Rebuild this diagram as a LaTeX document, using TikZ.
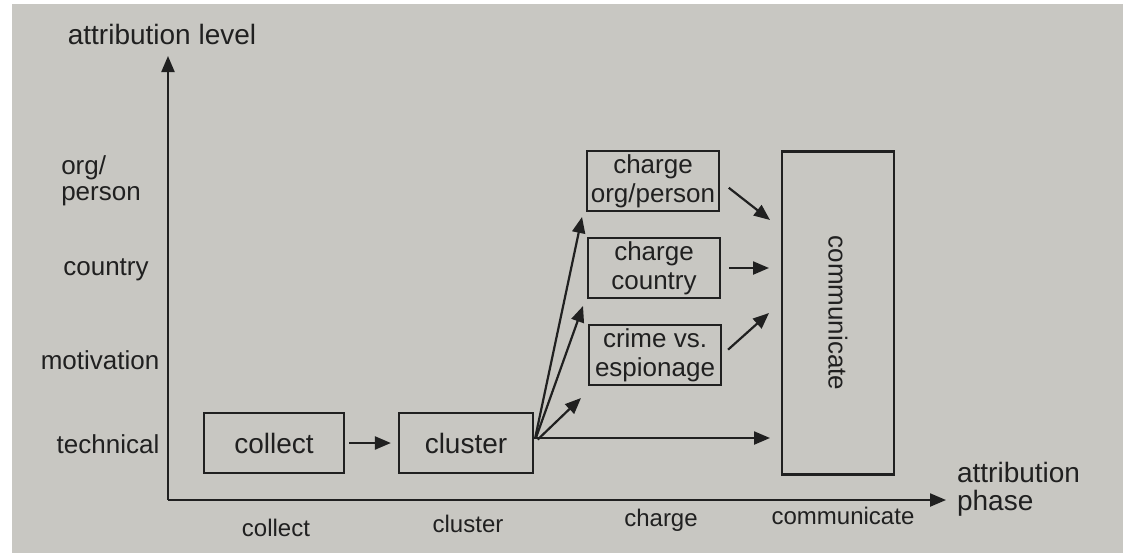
\documentclass[tikz,border=0pt]{standalone}
\usepackage{fontspec}
\setmainfont{Liberation Sans}
\usepackage{tikz}
\usetikzlibrary{arrows.meta, calc, positioning}
\definecolor{paper}{RGB}{200,199,194}
\definecolor{ink}{RGB}{32,32,32}
\tikzset{
  block/.style={draw=ink, line width=1.1pt, align=center, inner sep=0pt,
                minimum width=66pt, minimum height=30pt,
                font=\fontsize{13}{14.5}\selectfont},
  flow/.style={draw=ink, line width=1.1pt, -{Triangle[length=8pt, width=6.5pt]}},
  axis/.style={flow},
  level/.style={align=left, font=\fontsize{13}{13}\selectfont},
  phase/.style={font=\fontsize{12}{14}\selectfont},
  axtitle/.style={align=left, font=\fontsize{14}{14}\selectfont},
}

\begin{document}
\begin{tikzpicture}[x=0.5pt, y=-0.5pt, text=ink]
  \useasboundingbox (0,0) rectangle (1123,553);
  \fill[paper] (12,4) rectangle (1123,553);
  % ================= axes =================
  \coordinate (origin) at (168,500);
  \coordinate (ytip) at (168,56);
  \coordinate (xtip) at (946,500);
  \draw[axis] (origin) -- (ytip);
  \draw[axis] (origin) -- (xtip);
  \node[axtitle] (ytitle) at (162,34) {attribution level};
  \node[axtitle, anchor=west] (xtitle) at (950,489) {attribution\\phase};
  % levels (y axis)
  \node[level] (lvorg) at (101,181) {org/\\person};
  \node[level] (lvcountry) at (106,270) {country};
  \node[level] (lvmotive) at (100,360) {motivation};
  \node[level] (lvtech) at (108,444) {technical};
  % phases (x axis)
  \node[phase] (phcollect) at (276,528) {collect};
  \node[phase] (phcluster) at (468,524) {cluster};
  \node[phase] (phcharge) at (661,520) {charge};
  \node[phase] (phcomm) at (843,516) {communicate};
  % ================= boxes =================
  \node[block, minimum width=70pt, font=\fontsize{14}{15}\selectfont]
    (collect) at (274,443) {collect};
  \node[block, minimum width=67pt, font=\fontsize{14}{15}\selectfont]
    (cluster) at (466,443) {cluster};
  \node[block] (chorg) at (653,181) {charge\\org/person};
  \node[block] (chcountry) at (654,268) {charge\\country};
  \node[block] (crime) at (655,355) {crime vs.\\espionage};
  \node[block, minimum width=56pt, minimum height=161.5pt,
        label={[rotate=-90, font=\fontsize{13}{14}\selectfont]center:communicate}]
    (comm) at (838,313) {};
  % ================= arrows =================
  \coordinate (tochorg) at (582,217);
  \coordinate (tochcountry) at (583,306);
  \coordinate (tocrime) at (581,398);
  \coordinate (incomm1) at (770,220);
  \coordinate (incomm2) at (769,268);
  \coordinate (incomm3) at (769,313);
  \coordinate (incomm4) at (770,438);
  \draw[flow, shorten <=2pt, shorten >=3.5pt] (collect) -- (cluster);
  \draw[flow, shorten <=2.5pt] (cluster.east) -- (tochorg);
  \draw[flow, shorten <=2.5pt] (cluster.east) -- (tochcountry);
  \draw[flow, shorten <=2.5pt] (cluster.east) -- (tocrime);
  \draw[flow, shorten <=2.5pt] (cluster.east) -- (incomm4 -| cluster.east) -- (incomm4);
  \draw[flow, shorten <=5.5pt] (chorg.east) -- (incomm1);
  \draw[flow, shorten <=4pt] (chcountry.east) -- (incomm2);
  \draw[flow, shorten <=4pt] (crime.east) -- (incomm3);
\end{tikzpicture}
\end{document}
